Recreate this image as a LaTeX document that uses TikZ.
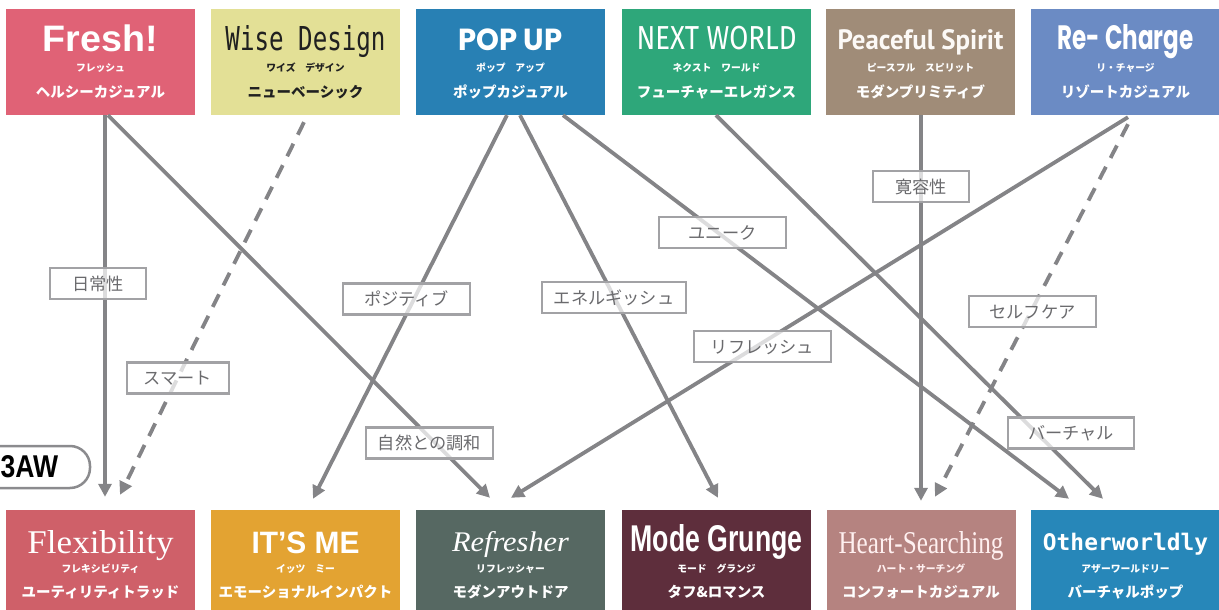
\documentclass[tikz,border=0pt]{standalone}
\usepackage{fontspec}
\usepackage{graphicx}
\usetikzlibrary{arrows.meta,calc}
\setmainfont{Liberation Sans}
\newfontfamily\jp{Noto Sans CJK JP}
\newfontfamily\fsans{Liberation Sans}
\newfontfamily\fserif{Liberation Serif}
\newfontfamily\fmono{DejaVu Sans Mono}
\newfontfamily\fpop{Poppins}
\newfontfamily\ffira{Fira Sans}
\newfontfamily\fpt{PT Sans}
\newcommand\mytitle[4]{\resizebox{#1pt}{#2pt}{\fontsize{20}{24}\selectfont#3#4}}
\definecolor{cFresh}{HTML}{E06276}
\definecolor{cWise}{HTML}{E3E096}
\definecolor{cPop}{HTML}{2880B4}
\definecolor{cNext}{HTML}{2EA77A}
\definecolor{cPeace}{HTML}{A08C78}
\definecolor{cRe}{HTML}{6B8BC4}
\definecolor{cFlex}{HTML}{CF6069}
\definecolor{cMe}{HTML}{E3A332}
\definecolor{cRef}{HTML}{566862}
\definecolor{cMode}{HTML}{5E2E3C}
\definecolor{cHeart}{HTML}{B58380}
\definecolor{cOther}{HTML}{2787B9}
\definecolor{arr}{HTML}{848487}
\definecolor{lblborder}{HTML}{A2A2A5}
\definecolor{lbltext}{HTML}{6A6A6D}
\definecolor{pillc}{HTML}{8B8B8E}
\definecolor{darktxt}{HTML}{202020}
\tikzset{
  tbox/.style={minimum width=189pt, minimum height=106pt, inner sep=0pt},
  bbox/.style={minimum width=189pt, minimum height=100pt, inner sep=0pt},
  ttl/.style={anchor=base, inner sep=0pt, text=white},
  kana/.style={anchor=base, inner sep=0pt, text=white, font=\jp\bfseries\fontsize{9.8}{10}\selectfont},
  subt/.style={anchor=base, inner sep=0pt, text=white, font=\jp\bfseries\fontsize{14.5}{15}\selectfont},
  lbl/.style={draw=lblborder, line width=2.5pt, fill=white, fill opacity=0.72, text opacity=1,
    text=lbltext, font=\jp\fontsize{17.2}{18}\selectfont, minimum height=31pt,
    text height=14.4pt, text depth=1.3pt, inner sep=0pt},
  conn/.style={draw=arr, line width=3.8pt, -{Triangle[length=13pt,width=13pt]}},
  dconn/.style={conn, dash pattern=on 14pt off 10pt},
}
\begin{document}
\begin{tikzpicture}[x=1pt,y=-1pt]
\useasboundingbox (0,0) rectangle (1219,610);
\clip (0,0) rectangle (1219,610);
% top boxes
\node[tbox, fill=cFresh] (fresh) at (100.5,62) {};
\node[tbox, fill=cWise] (wise) at (305.5,62) {};
\node[tbox, fill=cPop] (pop) at (510.5,62) {};
\node[tbox, fill=cNext] (next) at (716.5,62) {};
\node[tbox, fill=cPeace] (peace) at (920.5,62) {};
\node[tbox, fill=cRe] (re) at (1125.5,62) {};
% bottom boxes
\node[bbox, fill=cFlex] (flex) at (100.5,560) {};
\node[bbox, fill=cMe] (me) at (305.5,560) {};
\node[bbox, fill=cRef] (ref) at (510.5,560) {};
\node[bbox, fill=cMode] (mode) at (716.5,560) {};
\node[bbox, fill=cHeart] (heart) at (921,560) {};
\node[bbox, fill=cOther] (other) at (1125.5,560) {};
% top texts
\node[ttl] (fresh-t) at (100.5,51.7) {\mytitle{115}{26.7}{\fsans\bfseries}{Fresh!}};
\node[kana] (fresh-k) at (100.5,71.2) {フレッシュ};
\node[subt] (fresh-s) at (100.5,97.5) {ヘルシーカジュアル};
\node[ttl, text=darktxt] (wise-t) at (305.5,50) {\mytitle{160}{25}{\fmono}{Wise Design}};
\node[kana, text=darktxt] (wise-k) at (305.5,71.2) {ワイズ　デザイン};
\node[subt, text=darktxt] (wise-s) at (305.5,97.5) {ニューベーシック};
\node[ttl] (pop-t) at (510.5,50) {\mytitle{104}{21.7}{\fpop\bfseries}{POP UP}};
\node[kana] (pop-k) at (510.5,71.2) {ポップ　アップ};
\node[subt] (pop-s) at (510.5,97.5) {ポップカジュアル};
\node[ttl] (next-t) at (716.5,50) {\mytitle{160}{23.3}{\ffira}{NEXT WORLD}};
\node[kana] (next-k) at (716.5,71.2) {ネクスト　ワールド};
\node[subt] (next-s) at (716.5,97.5) {フューチャーエレガンス};
\node[ttl, text=white!95!brown] (peace-t) at (920.5,50) {\mytitle{166}{20}{\fpt\bfseries}{Peaceful Spirit}};
\node[kana] (peace-k) at (920.5,71.2) {ピースフル　スピリット};
\node[subt] (peace-s) at (920.5,97.5) {モダンプリミティブ};
\node[ttl] (re-t) at (1125.5,50) {\mytitle{136}{25}{\fpop\bfseries}{Re- Charge}};
\node[kana] (re-k) at (1125.5,71.2) {リ・チャージ};
\node[subt] (re-s) at (1125.5,97.5) {リゾートカジュアル};
% bottom texts
\node[ttl] (flex-t) at (100.5,553.3) {\mytitle{146}{23}{\fserif}{Flexibility}};
\node[kana] (flex-k) at (100.5,572.7) {フレキシビリティ};
\node[subt] (flex-s) at (100.5,597) {ユーティリティトラッド};
\node[ttl] (me-t) at (305.5,553.3) {\mytitle{108}{21.6}{\fsans\bfseries}{IT’S ME}};
\node[kana] (me-k) at (305.5,572.7) {イッツ　ミー};
\node[subt] (me-s) at (305.5,597) {エモーショナルインパクト};
\node[ttl] (ref-t) at (510.5,551.7) {\mytitle{117}{20}{\fserif\itshape}{Refresher}};
\node[kana] (ref-k) at (510.5,572.7) {リフレッシャー};
\node[subt] (ref-s) at (510.5,597) {モダンアウトドア};
\node[ttl] (mode-t) at (716.5,551.7) {\mytitle{172}{27}{\fsans\bfseries}{Mode Grunge}};
\node[kana] (mode-k) at (716.5,572.7) {モード　グランジ};
\node[subt] (mode-s) at (716.5,597) {タフ\&ロマンス};
\node[ttl, text=white!94!red] (heart-t) at (921,553.3) {\mytitle{165}{22}{\fserif}{Heart-Searching}};
\node[kana, text=white!94!red] (heart-k) at (921,572.7) {ハート・サーチング};
\node[subt] (heart-s) at (921,597) {コンフォートカジュアル};
\node[ttl] (other-t) at (1125.5,550) {\resizebox{165pt}{!}{\fmono\bfseries Otherworldly}};
\node[kana] (other-k) at (1125.5,572.7) {アザーワールドリー};
\node[subt] (other-s) at (1125.5,597) {バーチャルポップ};
% 3AW pill
\node[draw=pillc, line width=2.5pt, rounded corners=20pt, minimum width=150pt, minimum height=42pt, fill=white, inner sep=0pt] (pill) at (15,467) {};
\node[anchor=base west, inner sep=0pt] (aw) at (0.5,477) {\mytitle{57.5}{22}{\fsans\bfseries}{3AW}};
% connectors
\draw[conn] ([xshift=4.5pt]fresh.south) -- ([xshift=4.5pt,yshift=13pt]flex.north);
\draw[conn] ([xshift=7.5pt]fresh.south) -- ([xshift=-20.5pt,yshift=12pt]ref.north);
\draw[dconn] ([xshift=-1.5pt,yshift=-7pt]wise.south) -- ([xshift=19.5pt,yshift=15pt]flex.north);
\draw[conn] ([xshift=-3.5pt]pop.south) -- ([xshift=7.5pt,yshift=11pt]me.north);
\draw[conn] ([xshift=9.5pt]pop.south) -- ([xshift=1.5pt,yshift=12pt]mode.north);
\draw[conn] ([xshift=52.5pt]pop.south) -- ([xshift=-56.5pt,yshift=11pt]other.north);
\draw[conn] ([xshift=-0.5pt]next.south) -- ([xshift=-22.5pt,yshift=11pt]other.north);
\draw[conn] ([xshift=0.5pt]peace.south) -- ([yshift=9pt]heart.north);
\draw[conn] ([xshift=2.5pt,yshift=-2pt]re.south) -- ([xshift=0.5pt,yshift=12pt]ref.north);
\draw[dconn] ([xshift=2.5pt,yshift=-9pt]re.south) -- ([xshift=14pt,yshift=13pt]heart.north);
% labels
\node[lbl, minimum width=96pt] (l1) at (98,283.5) {日常性};
\node[lbl, minimum width=102pt] (l2) at (178,378) {スマート};
\node[lbl, minimum width=127pt] (l3) at (406.5,299) {ポジティブ};
\node[lbl, minimum width=144pt] (l4) at (614,297.5) {エネルギッシュ};
\node[lbl, minimum width=127pt] (l5) at (722.5,232.5) {ユニーク};
\node[lbl, minimum width=137pt] (l6) at (762.5,346.5) {リフレッシュ};
\node[lbl, minimum width=96pt] (l7) at (921,186.5) {寛容性};
\node[lbl, minimum width=127pt] (l8) at (1032.5,311.5) {セルフケア};
\node[lbl, minimum width=126pt] (l9) at (1071,433) {バーチャル};
\node[lbl, minimum width=127pt] (l10) at (429.5,443) {自然との調和};
\end{tikzpicture}
\end{document}
